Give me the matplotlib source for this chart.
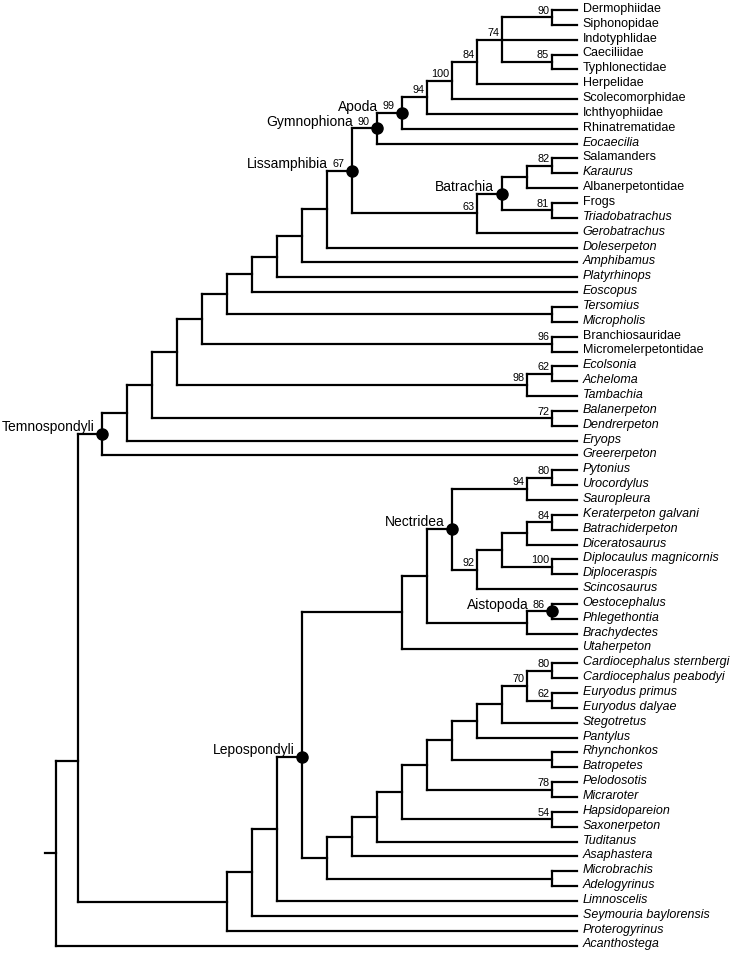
import matplotlib
matplotlib.use("Agg")
import matplotlib.pyplot as plt

plt.rcParams['font.family'] = ['Liberation Sans', 'DejaVu Sans']

# tips, top to bottom
taxa = [
    "Dermophiidae", "Siphonopidae", "Indotyphlidae", "Caeciliidae", "Typhlonectidae",
    "Herpelidae", "Scolecomorphidae", "Ichthyophiidae", "Rhinatrematidae", "Eocaecilia",
    "Salamanders", "Karaurus", "Albanerpetontidae", "Frogs", "Triadobatrachus", "Gerobatrachus",
    "Doleserpeton", "Amphibamus", "Platyrhinops", "Eoscopus", "Tersomius", "Micropholis",
    "Branchiosauridae", "Micromelerpetontidae", "Ecolsonia", "Acheloma", "Tambachia",
    "Balanerpeton", "Dendrerpeton", "Eryops", "Greererpeton",
    "Pytonius", "Urocordylus", "Sauropleura", "Keraterpeton galvani", "Batrachiderpeton",
    "Diceratosaurus", "Diplocaulus magnicornis", "Diploceraspis", "Scincosaurus",
    "Oestocephalus", "Phlegethontia", "Brachydectes", "Utaherpeton",
    "Cardiocephalus sternbergi", "Cardiocephalus peabodyi", "Euryodus primus", "Euryodus dalyae",
    "Stegotretus", "Pantylus", "Rhynchonkos", "Batropetes", "Pelodosotis", "Micraroter",
    "Hapsidopareion", "Saxonerpeton", "Tuditanus", "Asaphastera", "Microbrachis", "Adelogyrinus",
    "Limnoscelis", "Seymouria baylorensis", "Proterogyrinus", "Acanthostega",
]

# names set in roman type, the rest are italic
upright = {
    "Dermophiidae", "Siphonopidae", "Indotyphlidae", "Caeciliidae", "Typhlonectidae",
    "Herpelidae", "Scolecomorphidae", "Ichthyophiidae", "Rhinatrematidae", "Salamanders",
    "Albanerpetontidae", "Frogs", "Branchiosauridae", "Micromelerpetontidae",
}

# internal nodes: children (top to bottom), steps back from the tips
nodes = {
    "n1": (["Dermophiidae", "Siphonopidae"], 1),
    "n2": (["Caeciliidae", "Typhlonectidae"], 1),
    "n3": (["n1", "Indotyphlidae", "n2"], 3),
    "n4": (["n3", "Herpelidae"], 4),
    "n5": (["n4", "Scolecomorphidae"], 5),
    "n6": (["n5", "Ichthyophiidae"], 6),
    "apoda": (["n6", "Rhinatrematidae"], 7),
    "gymno": (["apoda", "Eocaecilia"], 8),
    "n7": (["Salamanders", "Karaurus"], 1),
    "n8": (["n7", "Albanerpetontidae"], 2),
    "n9": (["Frogs", "Triadobatrachus"], 1),
    "batr": (["n8", "n9"], 3),
    "n10": (["batr", "Gerobatrachus"], 4),
    "liss": (["gymno", "n10"], 9),
    "n11": (["liss", "Doleserpeton"], 10),
    "n12": (["n11", "Amphibamus"], 11),
    "n13": (["n12", "Platyrhinops"], 12),
    "n14": (["n13", "Eoscopus"], 13),
    "n15": (["Tersomius", "Micropholis"], 1),
    "n16": (["n14", "n15"], 14),
    "n17": (["Branchiosauridae", "Micromelerpetontidae"], 1),
    "n18": (["n16", "n17"], 15),
    "n19": (["Ecolsonia", "Acheloma"], 1),
    "n20": (["n19", "Tambachia"], 2),
    "n21": (["n18", "n20"], 16),
    "n22": (["Balanerpeton", "Dendrerpeton"], 1),
    "n23": (["n21", "n22"], 17),
    "n24": (["n23", "Eryops"], 18),
    "temno": (["n24", "Greererpeton"], 19),
    "n25": (["Pytonius", "Urocordylus"], 1),
    "n26": (["n25", "Sauropleura"], 2),
    "n27": (["Keraterpeton galvani", "Batrachiderpeton"], 1),
    "n28": (["n27", "Diceratosaurus"], 2),
    "n29": (["Diplocaulus magnicornis", "Diploceraspis"], 1),
    "n30": (["n28", "n29"], 3),
    "n31": (["n30", "Scincosaurus"], 4),
    "nect": (["n26", "n31"], 5),
    "aist": (["Oestocephalus", "Phlegethontia"], 1),
    "n32": (["aist", "Brachydectes"], 2),
    "n33": (["nect", "n32"], 6),
    "n34": (["n33", "Utaherpeton"], 7),
    "n35": (["Cardiocephalus sternbergi", "Cardiocephalus peabodyi"], 1),
    "n36": (["Euryodus primus", "Euryodus dalyae"], 1),
    "n37": (["n35", "n36"], 2),
    "n38": (["n37", "Stegotretus"], 3),
    "n39": (["n38", "Pantylus"], 4),
    "n40": (["Rhynchonkos", "Batropetes"], 1),
    "n41": (["n39", "n40"], 5),
    "n42": (["Pelodosotis", "Micraroter"], 1),
    "n43": (["n41", "n42"], 6),
    "n44": (["Hapsidopareion", "Saxonerpeton"], 1),
    "n45": (["n43", "n44"], 7),
    "n46": (["n45", "Tuditanus"], 8),
    "n47": (["n46", "Asaphastera"], 9),
    "n48": (["Microbrachis", "Adelogyrinus"], 1),
    "n49": (["n47", "n48"], 10),
    "lepo": (["n34", "n49"], 11),
    "n50": (["lepo", "Limnoscelis"], 12),
    "n51": (["n50", "Seymouria baylorensis"], 13),
    "n52": (["n51", "Proterogyrinus"], 14),
    "n53": (["temno", "n52"], 19.95),
    "root": (["n53", "Acanthostega"], 20.85),
}

# bootstrap support
support = {
    "n1": 90, "n2": 85, "n3": 74, "n4": 84, "n5": 100, "n6": 94, "apoda": 99, "gymno": 90,
    "n7": 82, "n9": 81, "n10": 63, "liss": 67, "n17": 96, "n19": 62, "n20": 98, "n22": 72,
    "n25": 80, "n26": 94, "n27": 84, "n29": 100, "n31": 92, "aist": 86,
    "n35": 80, "n36": 62, "n37": 70, "n42": 78, "n44": 54,
}

# named clades (marked with a dot)
clades = {
    "temno": "Temnospondyli", "liss": "Lissamphibia", "gymno": "Gymnophiona", "apoda": "Apoda",
    "batr": "Batrachia", "nect": "Nectridea", "aist": "Aistopoda", "lepo": "Lepospondyli",
}

# rows of nodes that are not centred on their children in the original
node_row = {"lepo": 50.3, "n53": 50.6}

W, H, DPI = 731, 955, 100
fig = plt.figure(figsize=(W / DPI, H / DPI), dpi=DPI)
ax = fig.add_axes([0, 0, 1, 1])
ax.set_xlim(-577 / 25, (W - 577) / 25)
ax.set_ylim((H - 10) / 14.85, -10 / 14.85)
ax.axis("off")

xpos = {t: 0 for t in taxa}
ypos = {t: i for i, t in enumerate(taxa)}


def place(n):
    if n in ypos:
        return ypos[n]
    kids, level = nodes[n]
    ys = [place(k) for k in kids]
    xpos[n] = -level
    ypos[n] = node_row.get(n, (ys[0] + ys[-1]) / 2)
    return ypos[n]


place("root")

lw = dict(color="black", lw=1.6, solid_capstyle="projecting")
for n, (kids, level) in nodes.items():
    ky = [ypos[k] for k in kids]
    ax.plot([xpos[n], xpos[n]], [min(ky), max(ky)], **lw)
    for k in kids:
        ax.plot([xpos[n], xpos[k]], [ypos[k], ypos[k]], **lw)
ax.plot([xpos["root"] - 0.44, xpos["root"]], [ypos["root"]] * 2, **lw)

for t in taxa:
    ax.annotate(t, (0, ypos[t]), xytext=(4, -1.4), textcoords="offset points",
                va="baseline", ha="left", fontsize=9,
                style="normal" if t in upright else "italic")

for n, name in clades.items():
    ax.plot(xpos[n], ypos[n], "o", color="black", ms=8, zorder=3)

fig.canvas.draw()
r = fig.canvas.get_renderer()
for n, s in support.items():
    dx = -5.5 if n in clades else -2
    txt = ax.annotate(str(s), (xpos[n], ypos[n]), xytext=(dx, 2.7), textcoords="offset points",
                      ha="right", va="baseline", fontsize=7.8)
    if n in clades:
        bb = txt.get_window_extent(r)
        px = ax.transData.transform((xpos[n], ypos[n]))[0]
        off = (bb.x0 - px - 4) * 72 / DPI
        ax.annotate(clades[n], (xpos[n], ypos[n]), xytext=(off, 1.8), textcoords="offset points",
                    ha="right", va="baseline", fontsize=10)
for n, name in clades.items():
    if n not in support:
        ax.annotate(name, (xpos[n], ypos[n]), xytext=(-5.5, 2.2), textcoords="offset points",
                    ha="right", va="baseline", fontsize=10)

fig.savefig("out.png", dpi=DPI)
